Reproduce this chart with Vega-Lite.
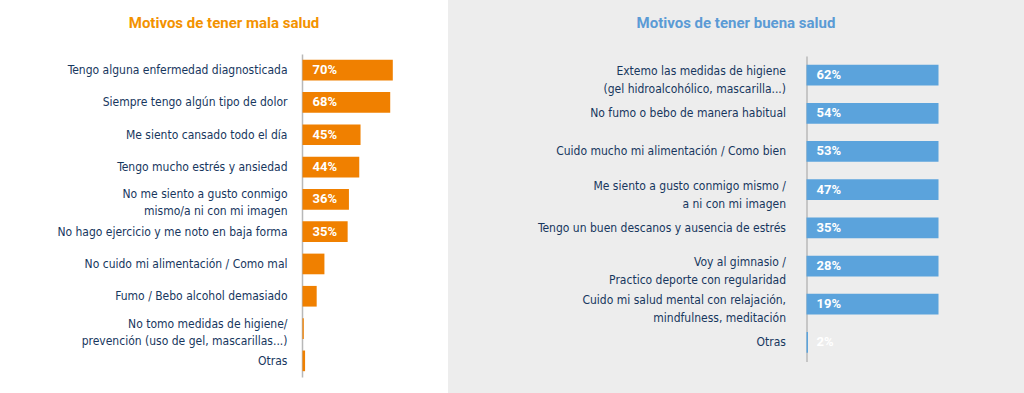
{
  "$schema": "https://vega.github.io/schema/vega-lite/v6.json",
  "background": "#ffffff",
  "padding": 0,
  "spacing": 0,
  "config": {
    "view": {"stroke": null},
    "axis": {"grid": false}
  },
  "datasets": {
    "mala": [
      {"motivo": "Tengo alguna enfermedad diagnosticada", "valor": 0.70},
      {"motivo": "Siempre tengo algún tipo de dolor", "valor": 0.68},
      {"motivo": "Me siento cansado todo el día", "valor": 0.45},
      {"motivo": "Tengo mucho estrés y ansiedad", "valor": 0.44},
      {"motivo": "No me siento a gusto conmigo|mismo/a ni con mi imagen", "valor": 0.36},
      {"motivo": "No hago ejercicio y me noto en baja forma", "valor": 0.35},
      {"motivo": "No cuido mi alimentación / Como mal", "valor": 0.17},
      {"motivo": "Fumo / Bebo alcohol demasiado", "valor": 0.11},
      {"motivo": "No tomo medidas de higiene/|prevención (uso de gel, mascarillas...)", "valor": 0.01},
      {"motivo": "Otras", "valor": 0.02}
    ],
    "buena": [
      {"motivo": "Extemo las medidas de higiene|(gel hidroalcohólico, mascarilla...)", "valor": 0.62},
      {"motivo": "No fumo o bebo de manera habitual", "valor": 0.54},
      {"motivo": "Cuido mucho mi alimentación / Como bien", "valor": 0.53},
      {"motivo": "Me siento a gusto conmigo mismo /|a ni con mi imagen", "valor": 0.47},
      {"motivo": "Tengo un buen descanos y ausencia de estrés", "valor": 0.35},
      {"motivo": "Voy al gimnasio /|Practico deporte con regularidad", "valor": 0.28},
      {"motivo": "Cuido mi salud mental con relajación,|mindfulness, meditación", "valor": 0.19},
      {"motivo": "Otras", "valor": 0.02}
    ]
  },
  "hconcat": [
    {
      "width": 448,
      "height": 393,
      "view": {"fill": "#ffffff", "stroke": null},
      "title": {
        "text": "Motivos de tener mala salud",
        "color": "#f39200",
        "font": "Roboto",
        "fontSize": 15,
        "fontWeight": "bold",
        "anchor": "middle",
        "frame": "group",
        "baseline": "bottom",
        "offset": -30,
        "dy": 16
      },
      "data": {"name": "mala"},
      "encoding": {
        "y": {
          "field": "motivo",
          "type": "nominal",
          "sort": null,
          "scale": {"range": [54, 377], "paddingInner": 0.36, "paddingOuter": 0.18},
          "axis": {
            "title": null,
            "orient": "left",
            "offset": -302,
            "ticks": false,
            "labelPadding": 15,
            "labelExpr": "split(datum.label, '|')",
            "labelOffset": {"condition": {"test": "indexof(datum.value, '|') >= 0", "value": -5}, "value": 0},
            "labelFont": "DejaVu Sans Condensed, Roboto Condensed, Roboto",
            "labelFontSize": 12,
            "labelColor": "#17375e",
            "labelLineHeight": 17,
            "labelLimit": 0,
            "domainColor": "#b8b8b8",
            "domainWidth": 1.5
          }
        }
      },
      "layer": [
        {
          "mark": {"type": "bar", "color": "#f08000"},
          "encoding": {
            "x": {
              "field": "valor",
              "type": "quantitative",
              "scale": {"domain": [0, 1], "range": [302.5, 431.5], "nice": false},
              "axis": null
            },
            "x2": {"datum": 0}
          }
        },
        {
          "transform": [{"filter": "datum.valor >= 0.2"}],
          "mark": {"type": "text", "align": "left", "baseline": "middle", "dx": 10, "color": "#ffffff", "font": "Roboto", "fontSize": 13, "fontWeight": "bold"},
          "encoding": {
            "x": {"datum": 0, "type": "quantitative"},
            "text": {"field": "valor", "type": "quantitative", "format": ".0%"}
          }
        }
      ]
    },
    {
      "width": 576,
      "height": 393,
      "view": {"fill": "#ededed", "stroke": null},
      "title": {
        "text": "Motivos de tener buena salud",
        "color": "#5b9bd5",
        "font": "Roboto",
        "fontSize": 15,
        "fontWeight": "bold",
        "anchor": "middle",
        "frame": "group",
        "baseline": "bottom",
        "offset": -30,
        "dy": 16
      },
      "data": {"name": "buena"},
      "encoding": {
        "y": {
          "field": "motivo",
          "type": "nominal",
          "sort": null,
          "scale": {"range": [56, 361.5], "paddingInner": 0.458, "paddingOuter": 0.229},
          "axis": {
            "title": null,
            "orient": "left",
            "offset": -358.5,
            "ticks": false,
            "labelPadding": 21,
            "labelExpr": "split(datum.label, '|')",
            "labelOffset": {"condition": {"test": "indexof(datum.value, '|') >= 0", "value": -4}, "value": 0},
            "labelFont": "DejaVu Sans Condensed, Roboto Condensed, Roboto",
            "labelFontSize": 12,
            "labelColor": "#17375e",
            "labelLineHeight": 18,
            "labelLimit": 0,
            "domainColor": "#b8b8b8",
            "domainWidth": 1.5
          }
        }
      },
      "layer": [
        {
          "mark": {"type": "bar", "color": "#5ba3dc"},
          "encoding": {
            "x": {
              "field": "valor",
              "type": "quantitative",
              "scale": {"domain": [0, 0.02, 0.19, 1], "range": [358.5, 360, 490.5, 490.5], "nice": false, "zero": false},
              "axis": null
            },
            "x2": {"datum": 0}
          }
        },
        {
          "mark": {"type": "text", "align": "left", "baseline": "middle", "dx": 10, "color": "#ffffff", "font": "Roboto", "fontSize": 13, "fontWeight": "bold"},
          "encoding": {
            "x": {"datum": 0, "type": "quantitative"},
            "text": {"field": "valor", "type": "quantitative", "format": ".0%"}
          }
        }
      ]
    }
  ]
}
